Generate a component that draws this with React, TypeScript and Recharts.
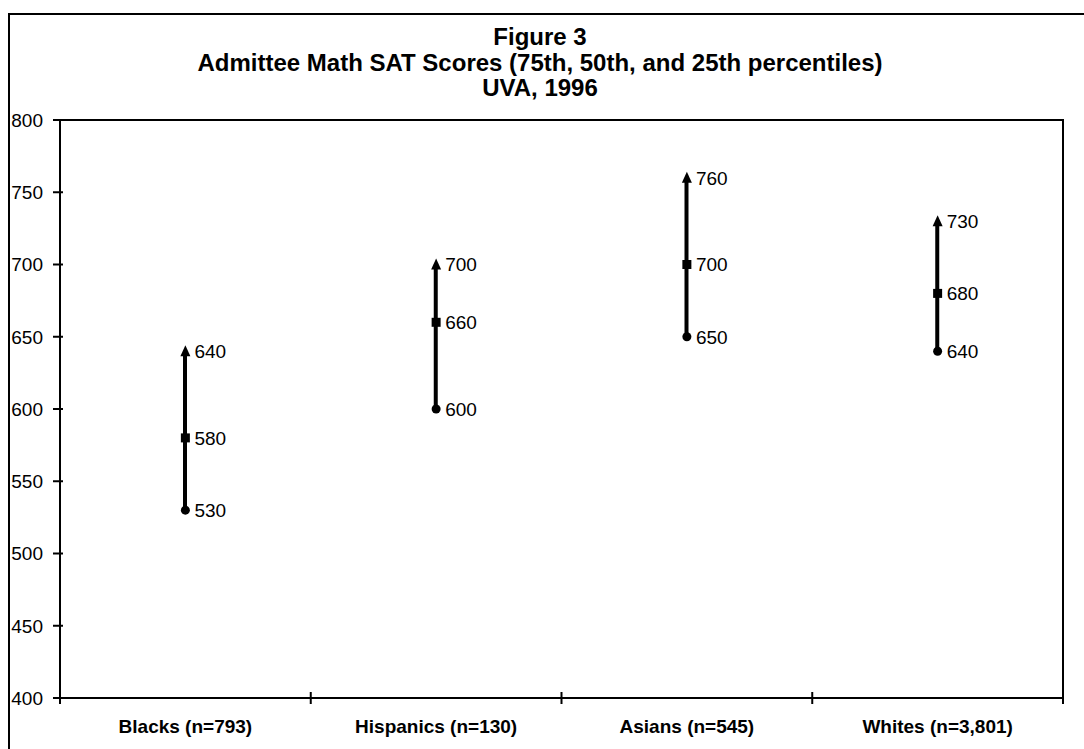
import {
  ComposedChart,
  Bar,
  Line,
  XAxis,
  YAxis,
  ReferenceArea,
  LabelList,
} from "recharts"

const categories = [
  "Blacks (n=793)",
  "Hispanics (n=130)",
  "Asians (n=545)",
  "Whites (n=3,801)",
]
const p75 = [640, 700, 760, 730]
const p50 = [580, 660, 700, 680]
const p25 = [530, 600, 650, 640]
const yTicks = [400, 450, 500, 550, 600, 650, 700, 750, 800]

const titleLines = [
  "Figure 3",
  "Admittee Math SAT Scores (75th, 50th, and 25th percentiles)",
  "UVA, 1996",
]

const FONT = "Arial, 'Liberation Sans', Helvetica, sans-serif"

const data = categories.map((name, i) => ({
  name,
  high: p75[i],
  mid:  p50[i],
  low:  p25[i],
  range: [p25[i], p75[i]],
}))

function Triangle(props: any) {
  const { cx, cy } = props
  if (cx == null || cy == null) return null
  return (
    <polygon
      points={`${cx},${cy - 6} ${cx - 5},${cy + 5} ${cx + 5},${cy + 5}`}
      fill="#000"
    />
  )
}

function Square(props: any) {
  const { cx, cy } = props
  if (cx == null || cy == null) return null
  return <rect x={cx - 4.5} y={cy - 4.5} width={9} height={9} fill="#000" />
}

function Dot(props: any) {
  const { cx, cy } = props
  if (cx == null || cy == null) return null
  return <circle cx={cx} cy={cy} r={4.5} fill="#000" />
}

function PointLabel(props: any) {
  const { x, y, value } = props
  return (
    <text
      x={x + 9}
      y={y}
      dy="0.36em"
      fontSize={19}
      fontFamily={FONT}
      fill="#000"
    >
      {value}
    </text>
  )
}

function YTick(props: any) {
  const { x, y, payload } = props
  return (
    <g>
      <line x1={x - 7} x2={x + 3} y1={y} y2={y} stroke="#000" strokeWidth={2} />
      <text
        x={x - 17}
        y={y}
        dy="0.36em"
        textAnchor="end"
        fontSize={19}
        fontFamily={FONT}
        fill="#000"
      >
        {payload.value}
      </text>
    </g>
  )
}

function XTick(props: any) {
  const { x, y, payload, index, width } = props
  const band = (width || 1003) / categories.length
  const left = x - band / 2
  return (
    <g>
      <line x1={left} x2={left} y1={y - 6} y2={y + 6} stroke="#000" strokeWidth={2} />
      {index === categories.length - 1 && (
        <line x1={x + band / 2} x2={x + band / 2} y1={y - 6} y2={y + 6} stroke="#000" strokeWidth={2} />
      )}
      <text
        x={x}
        y={y + 28}
        dy="0.36em"
        textAnchor="middle"
        fontSize={19}
        fontWeight="bold"
        fontFamily={FONT}
        fill="#000"
      >
        {payload.value}
      </text>
    </g>
  )
}

export default function App() {
  return (
    <div
      style={{
        position: "fixed",
        left: 8,
        top: 13,
        width: 1076,
        height: 736,
        boxSizing: "border-box",
        borderLeft: "2px solid #000",
        borderTop: "2px solid #000",
        overflow: "hidden",
        background: "#fff",
        fontFamily: FONT,
      }}
    >
      <div
        style={{
          position: "absolute",
          left: 0,
          top: 9,
          width: 1060,
          textAlign: "center",
          fontWeight: "bold",
          fontSize: 24,
          lineHeight: "25.5px",
        }}
      >
        {titleLines.map((t) => (
          <div key={t}>{t}</div>
        ))}
      </div>
      <ComposedChart
        width={1074}
        height={734}
        data={data}
        margin={{ top: 105, right: 21, left: 0, bottom: 0 }}
      >
        <XAxis
          dataKey="name"
          height={51}
          tickSize={0}
          tickMargin={0}
          tickLine={false}
          axisLine={{ stroke: "#000", strokeWidth: 2 }}
          tick={<XTick />}
          interval={0}
        />
        <YAxis
          width={50}
          domain={[400, 800]}
          ticks={yTicks}
          tickSize={0}
          tickMargin={0}
          tickLine={false}
          axisLine={{ stroke: "#000", strokeWidth: 2 }}
          tick={<YTick />}
          interval={0}
        />
        <ReferenceArea
          y1={400}
          y2={800}
          fill="none"
          stroke="#000"
          strokeWidth={2}
          ifOverflow="visible"
        />
        <Bar dataKey="range" barSize={4} fill="#000" isAnimationActive={false} />
        <Line
          dataKey="high"
          stroke="none"
          dot={<Triangle />}
          activeDot={false}
          isAnimationActive={false}
        >
          <LabelList dataKey="high" content={<PointLabel />} />
        </Line>
        <Line
          dataKey="mid"
          stroke="none"
          dot={<Square />}
          activeDot={false}
          isAnimationActive={false}
        >
          <LabelList dataKey="mid" content={<PointLabel />} />
        </Line>
        <Line
          dataKey="low"
          stroke="none"
          dot={<Dot />}
          activeDot={false}
          isAnimationActive={false}
        >
          <LabelList dataKey="low" content={<PointLabel />} />
        </Line>
      </ComposedChart>
    </div>
  )
}
